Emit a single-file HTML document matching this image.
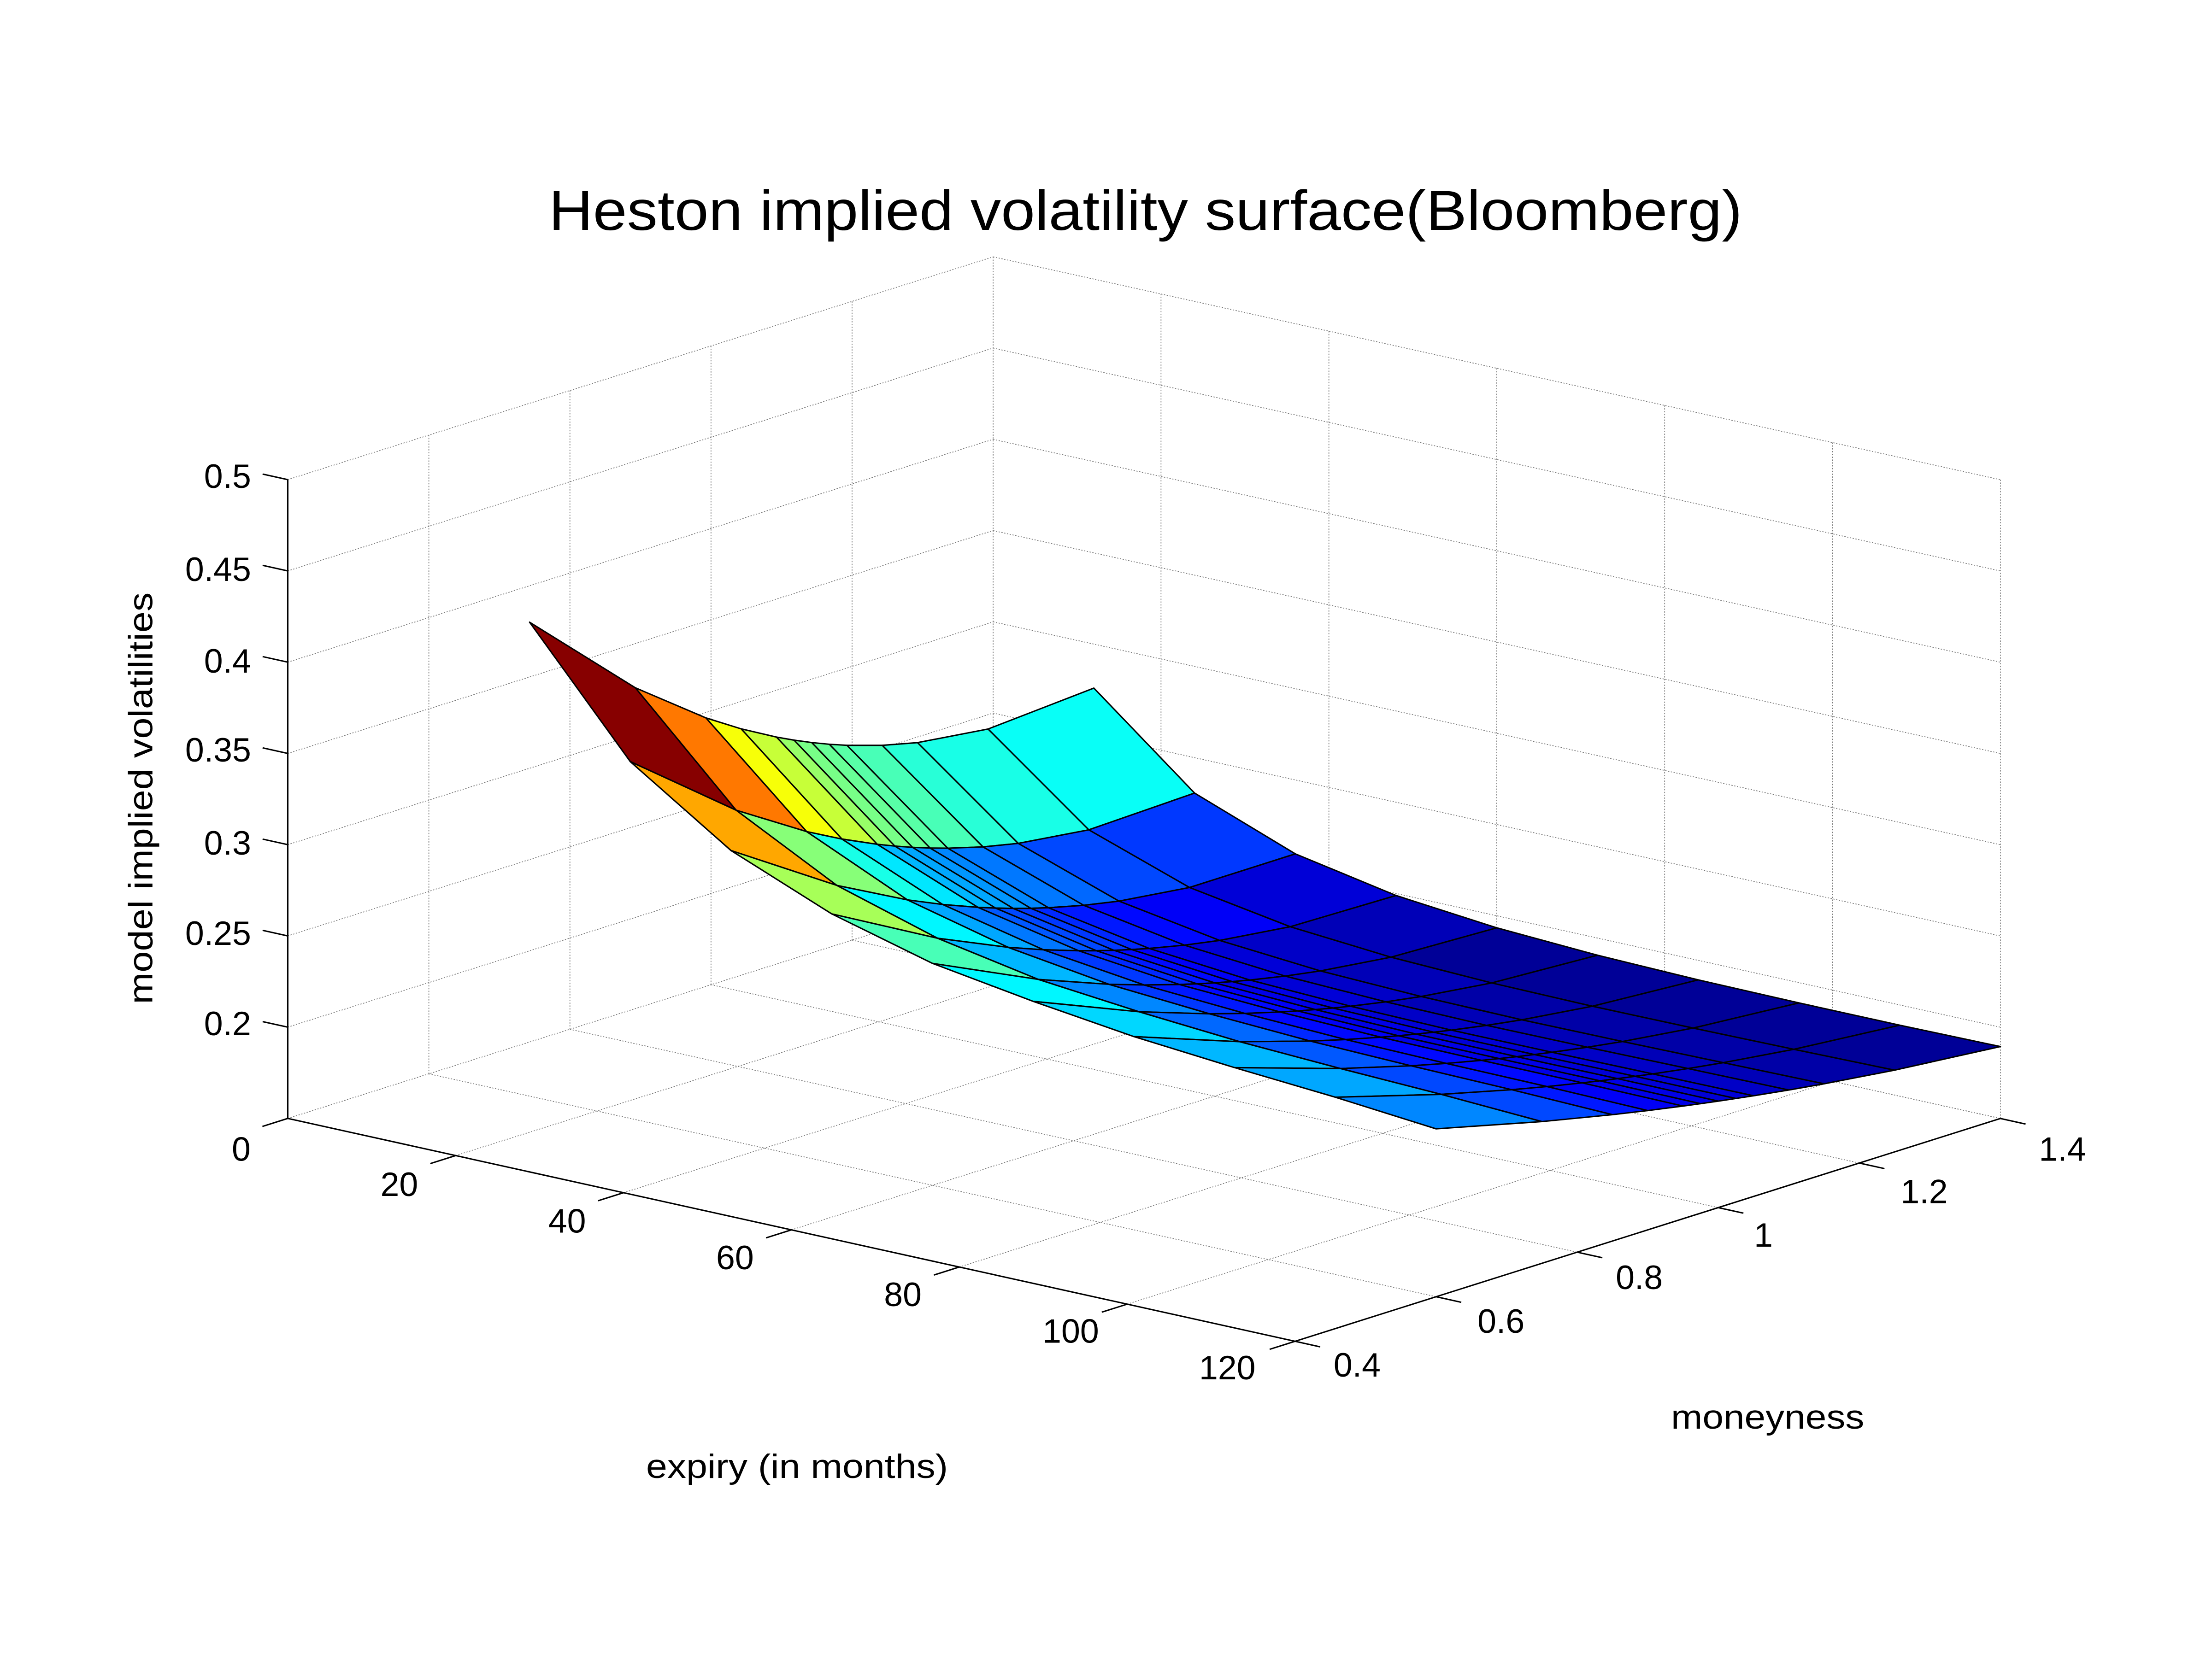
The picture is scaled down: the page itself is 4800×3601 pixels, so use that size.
<!DOCTYPE html>
<html><head><meta charset="utf-8"><style>
html,body{margin:0;padding:0;background:#fff;}
svg{display:block;}
text{font-family:"Liberation Sans",Arial,sans-serif;fill:#000;}
</style></head><body>
<svg id="s" xmlns="http://www.w3.org/2000/svg" width="4800" height="3601" viewBox="0 0 1568 1176.3" preserveAspectRatio="none">
<rect x="0" y="0" width="1568" height="1176.3" fill="#fff"/>
<g id="grid"></g>
<g id="surf"></g>
<g id="axes"></g>
<text x="812" y="163" font-size="40" text-anchor="middle" textLength="846" lengthAdjust="spacingAndGlyphs">Heston implied volatility surface(Bloomberg)</text>
<g font-size="24">
<text x="178" y="346" text-anchor="end">0.5</text>
<text x="178" y="412" text-anchor="end">0.45</text>
<text x="178" y="477" text-anchor="end">0.4</text>
<text x="178" y="540" text-anchor="end">0.35</text>
<text x="178" y="606" text-anchor="end">0.3</text>
<text x="178" y="670" text-anchor="end">0.25</text>
<text x="178" y="734" text-anchor="end">0.2</text>
<text x="171" y="823" text-anchor="middle">0</text>
<text x="283" y="848" text-anchor="middle">20</text>
<text x="402" y="874" text-anchor="middle">40</text>
<text x="521" y="900" text-anchor="middle">60</text>
<text x="640" y="926" text-anchor="middle">80</text>
<text x="759" y="952" text-anchor="middle">100</text>
<text x="870" y="978" text-anchor="middle">120</text>
<text x="962" y="976" text-anchor="middle">0.4</text>
<text x="1064" y="945" text-anchor="middle">0.6</text>
<text x="1162" y="914" text-anchor="middle">0.8</text>
<text x="1250" y="884" text-anchor="middle">1</text>
<text x="1364" y="853" text-anchor="middle">1.2</text>
<text x="1462" y="823" text-anchor="middle">1.4</text>
<text x="565" y="1048" text-anchor="middle" textLength="214" lengthAdjust="spacingAndGlyphs">expiry (in months)</text>
<text x="1253" y="1013" text-anchor="middle" textLength="137" lengthAdjust="spacingAndGlyphs">moneyness</text>
<text x="0" y="0" text-anchor="middle" transform="translate(108,566) rotate(-90)" textLength="292" lengthAdjust="spacingAndGlyphs">model implied volatilities</text>
</g>
</svg>
<script>
(function(){
var NS="http://www.w3.org/2000/svg";
function P(e,m,z){return [204+5.95*e+500*(m-0.4), 793+1.317*e-158*(m-0.4)-(z-0.15)*1294];}
function el(tag,attrs,parent){var n=document.createElementNS(NS,tag);for(var k in attrs)n.setAttribute(k,attrs[k]);parent.appendChild(n);return n;}
function line(a,b,parent,style){el("line",Object.assign({x1:a[0].toFixed(2),y1:a[1].toFixed(2),x2:b[0].toFixed(2),y2:b[1].toFixed(2)},style),parent);}
var grid=document.getElementById("grid"),axes=document.getElementById("axes"),surf=document.getElementById("surf");
var gs={stroke:"#777","stroke-width":"0.55","stroke-dasharray":"0.9 1.1",fill:"none"};
var zt=[0.15,0.2,0.25,0.3,0.35,0.4,0.45,0.5];
var et=[20,40,60,80,100,120];
var mt=[0.6,0.8,1.0,1.2,1.4];
// back-left wall (e=0)
zt.forEach(function(z){line(P(0,0.4,z),P(0,1.4,z),grid,gs);});
[0.6,0.8,1.0,1.2,1.4].forEach(function(m){line(P(0,m,0.15),P(0,m,0.5),grid,gs);});
// back-right wall (m=1.4)
zt.forEach(function(z){line(P(0,1.4,z),P(120,1.4,z),grid,gs);});
et.forEach(function(e){line(P(e,1.4,0.15),P(e,1.4,0.5),grid,gs);});
// floor
et.forEach(function(e){line(P(e,0.4,0.15),P(e,1.4,0.15),grid,gs);});
mt.forEach(function(m){line(P(0,m,0.15),P(120,m,0.15),grid,gs);});
// axes
var as={stroke:"#000","stroke-width":"1",fill:"none"};
line(P(0,0.4,0.15),P(0,0.4,0.5),axes,as);
line(P(0,0.4,0.15),P(120,0.4,0.15),axes,as);
line(P(120,0.4,0.15),P(120,1.4,0.15),axes,as);
[0.2,0.25,0.3,0.35,0.4,0.45,0.5].forEach(function(z){line(P(0,0.4,z),P(-3,0.4,z),axes,as);});
line(P(0,0.4,0.15),P(0,0.364,0.15),axes,as);
et.forEach(function(e){line(P(e,0.4,0.15),P(e,0.364,0.15),axes,as);});
[0.4,0.6,0.8,1.0,1.2,1.4].forEach(function(m){line(P(120,m,0.15),P(123,m,0.15),axes,as);});
// surface
var E=[12,24,36,48,60,72,84,96,108,120];
var M=[0.6,0.75,0.85,0.9,0.95,0.975,1.0,1.025,1.05,1.1,1.15,1.25,1.4];
var F=[.4097,.3455,.309,.2865,.2716,.263,.2559,.2511,.2471,.2420];
var R=[.2759,.2306,.2095,.1989,.1934,.1906,.1893,.1889,.1889,.1894];
var Z=[];var zmin=1,zmax=0;
for(var i=0;i<E.length;i++){
  var a=(R[i]-F[i])/0.8;
  var t=(E[i]-12)/108;
  var r=1.79*(1-t)+0.7*t;
  var b=-a*r;
  var atm=(F[i]+R[i])/2-0.16*b;
  Z[i]=[];
  for(var j=0;j<M.length;j++){var d=M[j]-1;var z=atm+a*d+b*d*d;Z[i][j]=z;if(z<zmin)zmin=z;if(z>zmax)zmax=z;}
  Z[i][0]=F[i];Z[i][M.length-1]=R[i];
}
function cl(v){return Math.max(0,Math.min(1,v));}
function jet(x){
  var idx=Math.min(63,Math.floor(x*64));var v=(idx+0.5)/64;
  var rr=cl(Math.min(4*v-1.5,-4*v+4.5)),gg=cl(Math.min(4*v-0.5,-4*v+3.5)),bb=cl(Math.min(4*v+0.5,-4*v+2.5));
  return "rgb("+Math.round(rr*255)+","+Math.round(gg*255)+","+Math.round(bb*255)+")";
}
var faces=[];
for(var i=0;i<E.length-1;i++)for(var j=0;j<M.length-1;j++){
  var key=((E[i]+E[i+1])/2)/120-((M[j]+M[j+1])/2-0.4);
  faces.push({i:i,j:j,k:key});
}
faces.sort(function(p,q){return p.k-q.k;});
faces.forEach(function(f){
  var i=f.i,j=f.j;
  var pts=[P(E[i],M[j],Z[i][j]),P(E[i+1],M[j],Z[i+1][j]),P(E[i+1],M[j+1],Z[i+1][j+1]),P(E[i],M[j+1],Z[i][j+1])];
  var s=pts.map(function(p){return p[0].toFixed(2)+","+p[1].toFixed(2);}).join(" ");
  el("polygon",{points:s,fill:jet((Z[i][j]-zmin)/(zmax-zmin)),stroke:"#000","stroke-width":"1","stroke-linejoin":"round"},surf);
});
})();
</script>
</body></html>
